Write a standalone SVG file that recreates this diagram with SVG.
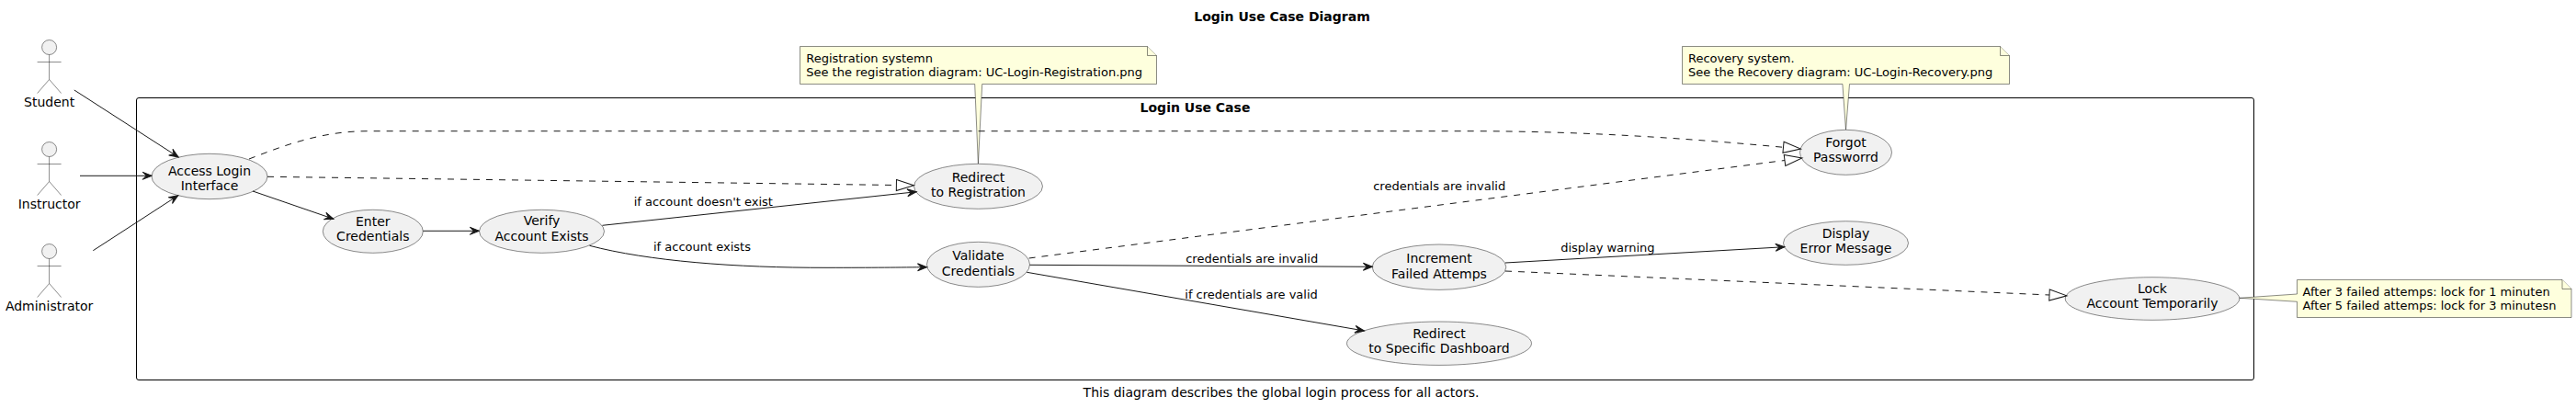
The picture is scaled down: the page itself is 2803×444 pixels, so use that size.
<svg xmlns="http://www.w3.org/2000/svg" width="2803" height="444" viewBox="0 0 2803 444">
<style>
text{font-family:"DejaVu Sans",sans-serif;fill:#000}
.t{font-size:14px;font-weight:bold;text-anchor:middle}
.n{font-size:14px;text-anchor:middle}
.l{font-size:13px}
.c{font-size:14px;text-anchor:middle}
ellipse{fill:#F1F1F1;stroke:#181818;stroke-width:.5}
.actor circle{fill:#F1F1F1;stroke:#181818;stroke-width:.5}
.actor path{fill:none;stroke:#181818;stroke-width:.5}
.note path{fill:#FEFFDD;stroke:#181818;stroke-width:.5}
.e{fill:none;stroke:#181818;stroke-width:1}
.a{marker-end:url(#open)}
.d{stroke-dasharray:7,7;marker-end:url(#tri)}
</style>
<defs>
<marker id="open" markerUnits="userSpaceOnUse" markerWidth="24" markerHeight="24" refX="12" refY="12" orient="auto" overflow="visible"><path d="M12,12 L2,8 L6,12 L2,16 Z" fill="#181818" stroke="#181818" stroke-width="1"/></marker>
<marker id="tri" markerUnits="userSpaceOnUse" markerWidth="40" markerHeight="24" refX="0" refY="12" orient="auto" overflow="visible"><path d="M0,6 L19,12 L0,18 Z" fill="#fff" stroke="#181818" stroke-width="1" stroke-dasharray="none"/></marker>
</defs>
<rect fill="#fff" x="0" y="0" width="2803" height="444"/>
<text class="t" x="1395" y="23">Login Use Case Diagram</text>
<g id="boundary">
<rect x="148.5" y="106.5" width="2304" height="307" rx="2.5" ry="2.5" fill="none" stroke="#000" stroke-width="1"/>
<text class="t" x="1300.5" y="122">Login Use Case</text>
</g>
<g id="actor-student" class="actor"><circle cx="53.6" cy="51.5" r="8"/><path d="M53.6,59.5V86.5M40.6,67.5H66.6M53.6,86.5L40.6,101.5M53.6,86.5L66.6,101.5"/><text class="n" x="53.6" y="116">Student</text></g>
<g id="actor-instructor" class="actor"><circle cx="53.6" cy="162.5" r="8"/><path d="M53.6,170.5V197.5M40.6,178.5H66.6M53.6,197.5L40.6,212.5M53.6,197.5L66.6,212.5"/><text class="n" x="53.6" y="227">Instructor</text></g>
<g id="actor-administrator" class="actor"><circle cx="53.6" cy="273.5" r="8"/><path d="M53.6,281.5V308.5M40.6,289.5H66.6M53.6,308.5L40.6,323.5M53.6,308.5L66.6,323.5"/><text class="n" x="53.6" y="338">Administrator</text></g>
<g id="note-registration" class="note"><path d="M870.5,50.5H1248.5L1258.5,60.5V91.5H1068.7L1064.4,178.3L1060.7,91.5H870.5Z"/><path d="M1248.5,50.5V60.5H1258.5"/><text class="l" x="877.2" y="68">Registration systemn</text><text class="l" x="877.2" y="83">See the registration diagram: UC-Login-Registration.png</text></g>
<g id="note-recovery" class="note"><path d="M1830.5,50.5H2176.5L2186.5,60.5V91.5H2012.5L2008.5,141.3L2004.9,91.5H1830.5Z"/><path d="M2176.5,50.5V60.5H2186.5"/><text class="l" x="1837" y="68">Recovery system.</text><text class="l" x="1837" y="83">See the Recovery diagram: UC-Login-Recovery.png</text></g>
<g id="note-lock" class="note"><path d="M2499.5,304.5H2788L2798,314.5V345.5H2499.5V328.3L2436.7,324.3L2499.5,320Z"/><path d="M2788,304.5V314.5H2798"/><text class="l" x="2505.5" y="322">After 3 failed attemps: lock for 1 minuten</text><text class="l" x="2505.5" y="337">After 5 failed attemps: lock for 3 minutesn</text></g>
<g id="uc-access"><ellipse cx="228" cy="192" rx="63" ry="24.7"/><text class="n" x="228" y="191">Access Login</text><text class="n" x="228" y="207">Interface</text></g>
<g id="uc-enter"><ellipse cx="405.8" cy="251.8" rx="54.5" ry="23.5"/><text class="n" x="405.8" y="245.5">Enter</text><text class="n" x="405.8" y="262">Credentials</text></g>
<g id="uc-verify"><ellipse cx="589.5" cy="251.8" rx="68" ry="23.5"/><text class="n" x="589.5" y="245">Verify</text><text class="n" x="589.5" y="261.5">Account Exists</text></g>
<g id="uc-redirect-registration"><ellipse cx="1064.5" cy="202.8" rx="70" ry="24.5"/><text class="n" x="1064.5" y="198">Redirect</text><text class="n" x="1064.5" y="214">to Registration</text></g>
<g id="uc-validate"><ellipse cx="1064.5" cy="287.8" rx="56" ry="24.5"/><text class="n" x="1064.5" y="282.5">Validate</text><text class="n" x="1064.5" y="299.5">Credentials</text></g>
<g id="uc-increment"><ellipse cx="1566" cy="290.7" rx="72.8" ry="24.7"/><text class="n" x="1566" y="285.5">Increment</text><text class="n" x="1566" y="302.5">Failed Attemps</text></g>
<g id="uc-dashboard"><ellipse cx="1566" cy="373.7" rx="100.5" ry="23.7"/><text class="n" x="1566" y="367.5">Redirect</text><text class="n" x="1566" y="384">to Specific Dashboard</text></g>
<g id="uc-forgot"><ellipse cx="2008.5" cy="165.8" rx="50" ry="24.5"/><text class="n" x="2008.5" y="160">Forgot</text><text class="n" x="2008.5" y="176">Passworrd</text></g>
<g id="uc-display"><ellipse cx="2008.5" cy="264.5" rx="68" ry="23.8"/><text class="n" x="2008.5" y="258.5">Display</text><text class="n" x="2008.5" y="275">Error Message</text></g>
<g id="uc-lock"><ellipse cx="2342" cy="325" rx="94.8" ry="23.3"/><text class="n" x="2342" y="318.5">Lock</text><text class="n" x="2342" y="335">Account Temporarily</text></g>
<g id="connectors">
<path class="e a" d="M80.8,98L194.2,171"/>
<path class="e a" d="M87,191.3H165.2"/>
<path class="e a" d="M101.3,272.7L193.8,212.7"/>
<path class="e a" d="M275,208L363,238.3"/>
<path class="e a" d="M460.3,251.3H521.4"/>
<path class="e a" d="M655.4,245.3L997.3,208.7"/>
<path class="e a" d="M641.5,267.3C705,284 800,291.5 900,291.3C950,291.3 980,291 1008.5,290.7"/>
<path class="e d" d="M291,192.3L975.4,201.5"/>
<path class="e d" d="M271,173C310,158 350,142.7 400,142.7L1600,142.7C1720,142.7 1830,150 1940.5,160.3"/>
<path class="e d" d="M1119.6,281L1942,174.5"/>
<path class="e a" d="M1120.5,288.3L1493.3,290.3"/>
<path class="e a" d="M1117.4,296.3L1484.4,360"/>
<path class="e a" d="M1638,286L1942,268.7"/>
<path class="e d" d="M1638,295L2230,321"/>
</g>
<g id="labels">
<text class="l" x="689.7" y="224">if account doesn't exist</text>
<text class="l" x="711" y="272.7">if account exists</text>
<text class="l" x="1494.2" y="206.7">credentials are invalid</text>
<text class="l" x="1290.2" y="286">credentials are invalid</text>
<text class="l" x="1289.3" y="325">if credentials are valid</text>
<text class="l" x="1698.2" y="274">display warning</text>
</g>
<text class="c" x="1394" y="432">This diagram describes the global login process for all actors.</text>
</svg>
